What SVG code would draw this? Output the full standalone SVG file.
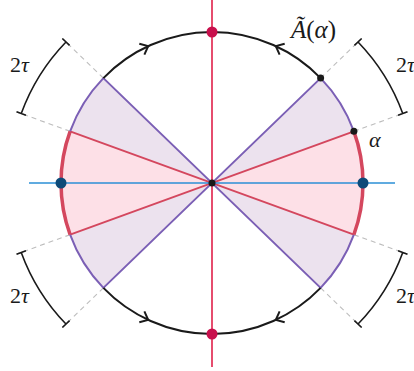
<svg xmlns="http://www.w3.org/2000/svg" xmlns:xlink="http://www.w3.org/1999/xlink" width="414" height="371" viewBox="0 0 414 371">
<style>
.lav{fill:#ece2ee;stroke:none}
.pink{fill:#fde0e7;stroke:none}
.blk{fill:none;stroke:#1a1a1a;stroke-width:2}
.pur{fill:none;stroke:#7b5fb5;stroke-width:2}
.red{fill:none;stroke:#d4475e;stroke-width:2}
.redarc{fill:none;stroke:#d4475e;stroke-width:3.5}
.dash{fill:none;stroke:#bdbdbd;stroke-width:1.1;stroke-dasharray:5 4}
.dim{fill:none;stroke:#1a1a1a;stroke-width:1.6}
.lbl{font-family:"Liberation Serif","DejaVu Serif",serif;font-size:22px;fill:#1a1a1a}
.it{font-style:italic}
</style>
<defs>
<path id="chev" d="M-7,-6 L0,0 L-7,6" fill="none" stroke="#1a1a1a" stroke-width="2"/>
</defs>
<g id="sectors">
<path class="lav" d="M212,183 L320.62,287.89 A151,151 0 0 0 320.62,78.11 Z"/>
<path class="lav" d="M212,183 L103.38,78.11 A151,151 0 0 0 103.38,287.89 Z"/>
<path class="pink" d="M212,183 L353.89,234.65 A151,151 0 0 0 353.89,131.35 Z"/>
<path class="pink" d="M212,183 L70.11,131.35 A151,151 0 0 0 70.11,234.65 Z"/>
</g>
<g id="connectors">
<path class="dash" d="M320.62,78.11 L361.62,38.51 M353.89,131.35 L407.46,111.86 M103.38,78.11 L62.38,38.51 M70.11,131.35 L16.54,111.86 M70.11,234.65 L16.54,254.14 M103.38,287.89 L62.38,327.49 M353.89,234.65 L407.46,254.14 M320.62,287.89 L361.62,327.49"/>
<path class="red" d="M70.11,131.35 L353.89,234.65 M70.11,234.65 L353.89,131.35"/>
<path class="pur" d="M103.38,78.11 L320.62,287.89 M103.38,287.89 L320.62,78.11"/>
<path class="pur" d="M353.89,131.35 A151,151 0 0 0 320.62,78.11 M320.62,287.89 A151,151 0 0 0 353.89,234.65 M103.38,78.11 A151,151 0 0 0 70.11,131.35 M70.11,234.65 A151,151 0 0 0 103.38,287.89"/>
<path class="redarc" d="M353.89,234.65 A151,151 0 0 0 353.89,131.35 M70.11,131.35 A151,151 0 0 0 70.11,234.65"/>
<path class="blk" d="M320.62,78.11 A151,151 0 0 0 103.38,78.11 M103.38,287.89 A151,151 0 0 0 320.62,287.89"/>
<use xlink:href="#chev" transform="translate(275.81,46.15) rotate(205)"/>
<use xlink:href="#chev" transform="translate(148.19,46.15) rotate(-25)"/>
<use xlink:href="#chev" transform="translate(148.19,319.85) rotate(25)"/>
<use xlink:href="#chev" transform="translate(275.81,319.85) rotate(155)"/>
<line x1="212" y1="0" x2="212" y2="367" stroke="#e0204a" stroke-width="1.6"/>
<line x1="29" y1="183" x2="395" y2="183" stroke="#2b8fd6" stroke-width="1.6"/>
<g id="dims">
<path class="dim" d="M402.76,113.57 A203,203 0 0 0 358.03,41.98 M398.06,115.28 L407.46,111.86 M354.43,45.45 L361.63,38.51"/>
<path class="dim" d="M65.97,41.98 A203,203 0 0 0 21.24,113.57 M62.37,38.51 L69.57,45.45 M16.54,111.86 L25.94,115.28"/>
<path class="dim" d="M21.24,252.43 A203,203 0 0 0 65.97,324.02 M16.54,254.14 L25.94,250.72 M62.37,327.49 L69.57,320.55"/>
<path class="dim" d="M358.03,324.02 A203,203 0 0 0 402.76,252.43 M354.43,320.55 L361.63,327.49 M398.06,250.72 L407.46,254.14"/>
</g>
</g>
<g id="node-top"><circle cx="212" cy="32" r="5.5" fill="#c8104c"/></g>
<g id="node-bottom"><circle cx="212" cy="334" r="5.5" fill="#c8104c"/></g>
<g id="node-left"><circle cx="61" cy="183" r="5.5" fill="#0e4a78"/></g>
<g id="node-right"><circle cx="363" cy="183" r="5.5" fill="#0e4a78"/></g>
<g id="node-center"><circle cx="212" cy="183" r="3.5" fill="#1a1a1a"/></g>
<g id="node-A"><circle cx="320.62" cy="78.11" r="3.5" fill="#1a1a1a"/></g>
<g id="node-alpha"><circle cx="353.89" cy="131.35" r="3.5" fill="#1a1a1a"/></g>
<g id="labels">
<text class="lbl" x="10" y="72">2<tspan class="it">τ</tspan></text>
<text class="lbl" x="396" y="72">2<tspan class="it">τ</tspan></text>
<text class="lbl" x="10" y="303">2<tspan class="it">τ</tspan></text>
<text class="lbl" x="396" y="303">2<tspan class="it">τ</tspan></text>
<text class="lbl" x="291" y="38" style="font-size:25px"><tspan class="it">Ã</tspan>(<tspan class="it">α</tspan>)</text>
<text class="lbl it" x="369" y="147">α</text>
</g>
</svg>
